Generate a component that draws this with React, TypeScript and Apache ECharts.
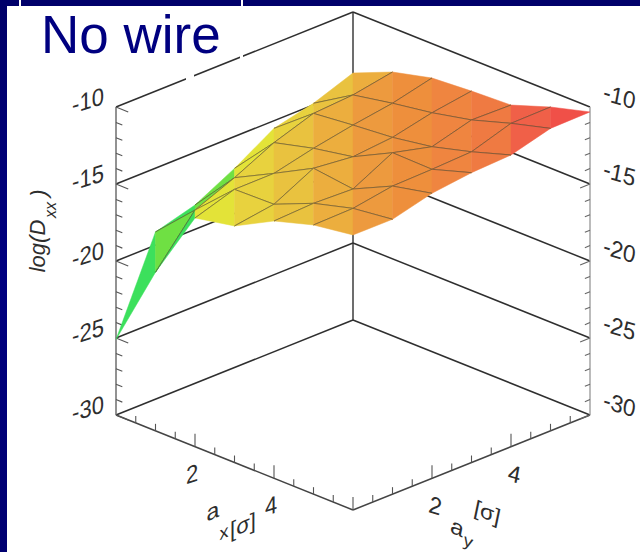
import React, { useEffect, useRef } from "react";
import * as echarts from "echarts";

const title = "No wire";
const zTicks = [-10, -15, -20, -25, -30];
const axTicks = [2, 4];
const ayTicks = [2, 4];

// log(Dxx); rows are a_y = 0..6, columns a_x = 0..6
const zRow0 = [-25.1, -19.7, -15.15, -14.64, -13.29, -12.52, -12.14];
const zRow1 = [-19.14, -16.69, -14.32, -14.26, -13.17, -12.47, -12.15];
const zRow2 = [-18.42, -15.62, -14.31, -12.95, -13.27, -12.05, -11.49];
const zRow3 = [-17.07, -14.37, -13.71, -13.23, -11.94, -11.99, -11.18];
const zRow4 = [-15.5, -13.5, -13.23, -13.0, -12.58, -11.88, -11.06];
const zRow5 = [-14.9, -13.33, -12.84, -12.43, -11.87, -11.06, -10.36];
const zRow6 = [-13.96, -12.87, -12.23, -12.05, -11.93, -11.03, -10.32];
const zRows = [zRow0, zRow1, zRow2, zRow3, zRow4, zRow5, zRow6];

const bandColors = [
  "#3ce05c", "#6fe043", "#e3e338", "#e8d23e", "#e9c23f", "#ecae3e",
  "#ed9a3e", "#ee8f3c", "#ef8540", "#ef7a42", "#f06048", "#f05048",
];

const SHEAR = 95 / 6 / 15.4; // vertical units per grid step in the oblique view
const X = (ax: number, ay: number) => ax + ay;
const V = (ax: number, ay: number, z: number) => z + (ay - ax) * SHEAR;

type Seg = [number, number, number, number, number, number, string, number];
const segs: Seg[] = [];
const WALL = "#2f2f2f";
const AXIS = "#444444";
zTicks.forEach((z) => {
  segs.push([0, 0, z, 0, 6, z, WALL, 1.5]);
  segs.push([0, 6, z, 6, 6, z, WALL, 1.5]);
});
segs.push([0, 6, -30, 0, 6, -10, WALL, 1.4]);
segs.push([0, 0, -30, 0, 0, -10, "#777777", 1.6]);
segs.push([6, 6, -30, 6, 6, -10, "#aaaaaa", 1.6]);
segs.push([0, 0, -30, 6, 0, -30, AXIS, 1.5]);
segs.push([6, 0, -30, 6, 6, -30, AXIS, 1.5]);
for (let z = -30; z <= -10; z++) {
  const major = z % 5 === 0;
  segs.push([0, 0, z, major ? 0.31 : 0.16, 0, z, "#555555", 1.1]);
  if (z !== -10) segs.push([6, 6, z, 6, major ? 5.75 : 5.87, z, "#666666", 1.1]);
}
for (let t = 0.5; t <= 6; t += 0.5) {
  const major = t % 2 === 0;
  const h = major ? 13 / 15.4 : 7 / 15.4;
  segs.push([t, 0, -30, t, 0, -30 + h, "#555555", 1.1]);
  if (t < 6) segs.push([6, t, -30, 6, t, -30 + h, "#555555", 1.1]);
}

// surface cells, painted from the back corner to the front corner
type Cell = [number, number];
const cells: Cell[] = [];
for (let ax = 0; ax < 6; ax++) for (let ay = 0; ay < 6; ay++) cells.push([ax, ay]);
cells.sort((a, b) => a[0] - a[1] - (b[0] - b[1]) || a[0] + a[1] - (b[0] + b[1]));

const labels: [string, number, number, number, number, number][] = [];
zTicks.forEach((z) => {
  labels.push([String(z), 0, 0, z, -28, -7]);
  labels.push([String(z), 6, 6, z, 29, -11]);
});

export default function App() {
  const ref = useRef<HTMLDivElement>(null);
  useEffect(() => {
    const chart = echarts.init(ref.current!, undefined, { renderer: "svg" });
    const P = (api: any, ax: number, ay: number, z: number) =>
      api.coord([X(ax, ay), V(ax, ay, z)]);
    const txt = (t: string, x: number, y: number, skew: number, size: number, italic = false, rot = 0, sy = 1) => ({
      type: "text",
      x,
      y,
      rotation: rot,
      skewY: skew,
      scaleY: sy,
      z: 20,
      style: {
        text: t,
        fill: "#2e2e2e",
        fontFamily: "Liberation Sans",
        fontSize: size,
        fontStyle: italic ? "italic" : "normal",
        align: "center",
        verticalAlign: "middle",
      },
    });
    chart.setOption({
      animation: false,
      backgroundColor: "#ffffff",
      grid: { left: 116, width: 474, top: 12, height: 498 },
      xAxis: { type: "value", min: 0, max: 12, show: false },
      yAxis: { type: "value", min: -30 - 6 * SHEAR, max: -10 + 6 * SHEAR, show: false },
      tooltip: { show: false },
      graphic: [
        { type: "rect", z: 1, shape: { x: 0, y: 0, width: 7, height: 552 },
          style: { fill: { type: "linear", x: 0, y: 0, x2: 0, y2: 1, colorStops: [
            { offset: 0, color: "#000068" }, { offset: 0.5, color: "#000080" }, { offset: 1, color: "#000070" } ] } } },
        { type: "rect", z: 1, shape: { x: 0, y: 0, width: 640, height: 6 }, style: { fill: "#00006a" } },
        { type: "rect", z: 2, shape: { x: 19, y: 0, width: 2, height: 6 }, style: { fill: "#ffffff" } },
        { type: "rect", z: 2, shape: { x: 241, y: 0, width: 2, height: 6 }, style: { fill: "#ffffff" } },
        { type: "rect", z: 30, shape: { x: 186, y: 73, width: 8, height: 8 }, style: { fill: "#ffffff" } },
        { type: "rect", z: 30, shape: { x: 240, y: 52, width: 3, height: 9 }, style: { fill: "#ffffff" } },
        { type: "text", z: 31, x: 41, y: 8, style: { text: title, fill: "#000080", fontFamily: "Liberation Sans", fontSize: 53 } },
        txt("log(D", 37, 246, 0, 22, true, Math.PI / 2),
        txt("xx", 50, 210, 0, 16, true, Math.PI / 2),
        txt(")", 38, 193, 0, 22, true, Math.PI / 2),
        txt("a", 213, 511, 0.4, 23),
        txt("x", 224, 532, 0.4, 18),
        txt("[σ]", 243, 525, 0.4, 22),
        txt("a", 457, 527, -0.4, 23, true),
        txt("y", 468, 541, -0.4, 18, true),
        txt("[σ]", 487, 512, -0.4, 22, true),
      ],
      series: [
        {
          type: "custom",
          coordinateSystem: "cartesian2d",
          silent: true,
          z: 3,
          data: segs.map((s) => s.slice(0, 6)),
          renderItem: (p: any, api: any) => {
            const s = segs[p.dataIndex];
            const a = P(api, s[0], s[1], s[2]);
            const b = P(api, s[3], s[4], s[5]);
            return { type: "line", shape: { x1: a[0], y1: a[1], x2: b[0], y2: b[1] }, style: { stroke: s[6], lineWidth: s[7] } };
          },
        },
        {
          type: "custom",
          coordinateSystem: "cartesian2d",
          silent: true,
          z: 4,
          data: cells.map(([ax, ay]) => [ax, ay, zRows[ay][ax]]),
          renderItem: (p: any, api: any) => {
            const [ax, ay] = cells[p.dataIndex];
            const pt = (i: number, j: number) => P(api, i, j, zRows[j][i]);
            const L = pt(ax, ay);
            const T = pt(ax, ay + 1);
            const B = pt(ax + 1, ay);
            const R = pt(ax + 1, ay + 1);
            const k = ax + ay;
            const shift = ax === 0 && k > 0 ? 1 : 0;
            const fillL = ax === 1 && ay === 0 ? bandColors[0] : bandColors[k - shift];
            const fillR = bandColors[k + 1 - shift];
            const children: any[] = [
              { type: "polygon", shape: { points: [L, T, B] }, style: { fill: fillL, stroke: fillL, lineWidth: 0.5 } },
              { type: "polygon", shape: { points: [T, R, B] }, style: { fill: fillR, stroke: fillR, lineWidth: 0.5 } },
            ];
            const edge = (a: number[], b: number[]) =>
              children.push({ type: "line", shape: { x1: a[0], y1: a[1], x2: b[0], y2: b[1] }, style: { stroke: "rgba(85,75,50,0.6)", lineWidth: 1 } });
            if (ax > 0) edge(L, T);
            if (ay > 0) edge(L, B);
            if (ay < 5) edge(T, R);
            if (ax < 5) edge(B, R);
            return { type: "group", children };
          },
        },
        {
          type: "custom",
          coordinateSystem: "cartesian2d",
          silent: true,
          z: 5,
          data: labels.map((l) => [l[1] + l[2], l[3]]),
          renderItem: (p: any, api: any) => {
            const l = labels[p.dataIndex];
            const c = P(api, l[1], l[2], l[3]);
            return txt(l[0], c[0] + l[4], c[1] + l[5], l[1] === 6 ? -0.3 : 0.3, 22, l[1] === 6, 0, 1.12);
          },
        },
        {
          type: "custom",
          coordinateSystem: "cartesian2d",
          silent: true,
          z: 5,
          data: axTicks.map((t) => [t, -30]),
          renderItem: (p: any, api: any) => {
            const t = axTicks[p.dataIndex];
            const c = P(api, t, 0, -30);
            return txt(String(t), c[0] - 3, c[1] + 27, 0.3, 22, false, 0, 1.12);
          },
        },
        {
          type: "custom",
          coordinateSystem: "cartesian2d",
          silent: true,
          z: 5,
          data: ayTicks.map((t) => [t, -30]),
          renderItem: (p: any, api: any) => {
            const t = ayTicks[p.dataIndex];
            const c = P(api, 6, t, -30);
            return txt(String(t), c[0] + 3, c[1] + 27, -0.3, 22, true, 0, 1.12);
          },
        },
      ],
    });
    return () => chart.dispose();
  }, []);
  return <div ref={ref} style={{ position: "absolute", left: 0, top: 0, width: 640, height: 552 }} />;
}
